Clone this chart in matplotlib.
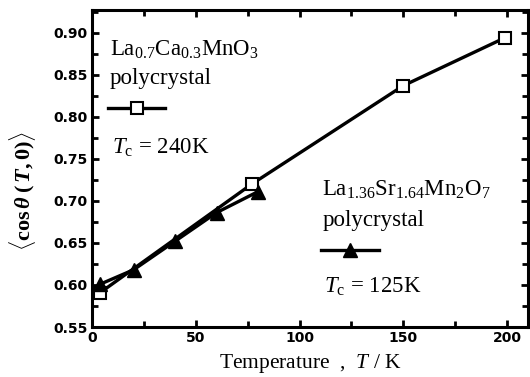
import matplotlib
matplotlib.use("Agg")
import matplotlib.pyplot as plt
from matplotlib.ticker import MultipleLocator

plt.rcParams['font.family'] = ['Liberation Serif', 'DejaVu Serif']
plt.rcParams['mathtext.fontset'] = 'custom'
plt.rcParams['mathtext.rm'] = 'Liberation Serif'
plt.rcParams['mathtext.it'] = 'Liberation Serif:italic'
plt.rcParams['mathtext.bf'] = 'Liberation Serif:bold'
plt.rcParams['mathtext.bfit'] = 'Liberation Serif:italic:bold'

# La0.7Ca0.3MnO3 (open squares)
t_lca = [4, 77, 150, 199]
c_lca = [0.591, 0.720, 0.837, 0.894]

# La1.36Sr1.64Mn2O7 (filled triangles)
t_lsm = [4, 20, 40, 60, 80]
c_lsm = [0.601, 0.618, 0.652, 0.686, 0.711]

fig = plt.figure(figsize=(5.3, 3.77), dpi=100)
ax = fig.add_axes([0.1736, 0.1326, 0.8224, 0.841])

ax.plot(t_lca, c_lca, '-', color='black', lw=2.4, marker='s', ms=9,
        mfc='white', mec='black', mew=1.5, zorder=3)
ax.plot(t_lsm, c_lsm, '-', color='black', lw=2.4, marker='^', ms=10,
        mfc='black', mec='black', zorder=4)

ax.set_xlim(0, 210)
ax.set_ylim(0.55, 0.927)
ax.xaxis.set_major_locator(MultipleLocator(50))
ax.xaxis.set_minor_locator(MultipleLocator(25))
ax.yaxis.set_major_locator(MultipleLocator(0.05))
ax.yaxis.set_minor_locator(MultipleLocator(0.025))
ax.yaxis.set_major_formatter(matplotlib.ticker.FormatStrFormatter('%.2f'))
ax.tick_params(which='both', direction='in', top=True, right=True, width=2)
ax.tick_params(which='major', length=5, labelsize=10, pad=3)
ax.tick_params(which='minor', length=4)
for lab in ax.get_xticklabels() + ax.get_yticklabels():
    lab.set_fontfamily('DejaVu Sans')
    lab.set_fontweight('bold')
for s in ax.spines.values():
    s.set_linewidth(2.2)

ax.set_xlabel(r"Temperature  ,  $T$ / K", fontsize=15.5, labelpad=5)
ax.set_ylabel(r"$\langle\mathbf{cos}\,\mathbfit{\theta}\;\mathbf{(}\,\mathbfit{T}\mathbf{,0)}\rangle$",
              fontsize=16)
ax.yaxis.set_label_coords(-0.125, 0.43)

fs = 16.5
# first label block
ax.text(8.5, 0.880, r"La$_{0.7}$Ca$_{0.3}$MnO$_3$", fontsize=fs, va='center')
ax.text(8.5, 0.845, "polycrystal", fontsize=fs, va='center')
ax.plot([7.5, 35], [0.811, 0.811], '-', color='black', lw=2.4, zorder=3)
ax.plot([21.5], [0.811], marker='s', ms=9, mfc='white', mec='black', mew=1.5, zorder=4)
ax.text(9.5, 0.763, r"$T_{\rm c}$ = 240K", fontsize=fs, va='center')

# second label block
ax.text(111, 0.713, r"La$_{1.36}$Sr$_{1.64}$Mn$_2$O$_7$", fontsize=fs, va='center')
ax.text(111, 0.677, "polycrystal", fontsize=fs, va='center')
ax.plot([110.5, 138.5], [0.642, 0.642], '-', color='black', lw=2.4, zorder=3)
ax.plot([124.5], [0.642], marker='^', ms=10, mfc='black', mec='black', zorder=4)
ax.text(112, 0.598, r"$T_{\rm c}$ = 125K", fontsize=fs, va='center')

fig.savefig("out.png", dpi=100)
